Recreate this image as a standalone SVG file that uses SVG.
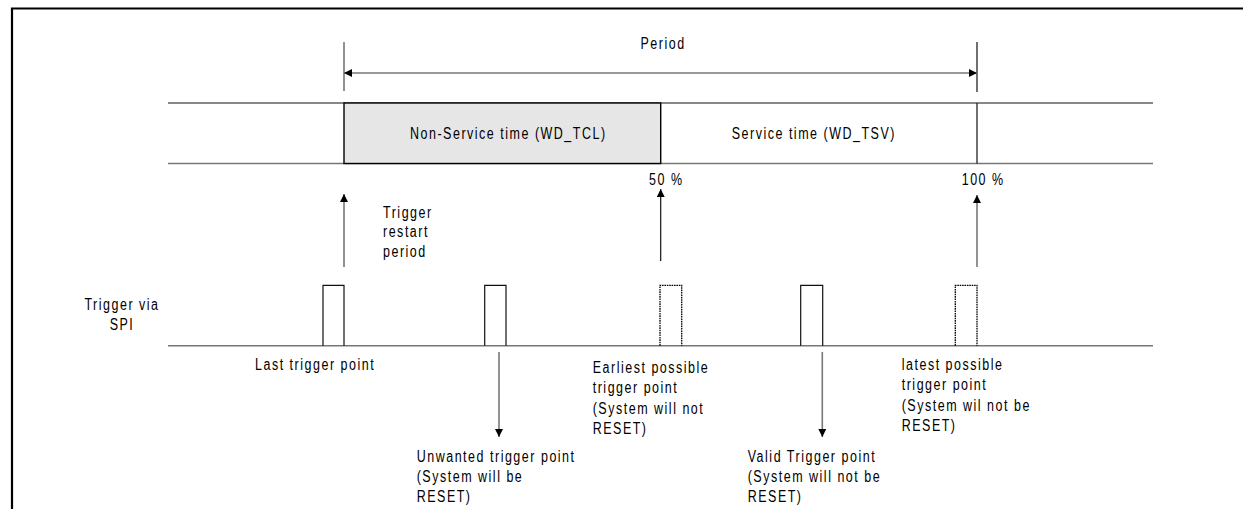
<svg xmlns="http://www.w3.org/2000/svg" width="1243" height="509" viewBox="0 0 1243 509">
<style>
  text { font-family: "Liberation Sans", Arial, sans-serif; font-size: 15.6px; fill: #000; letter-spacing: 1.9px; }
  .mid { text-anchor: middle; }
  .ln { stroke: #111; stroke-width: 1.2; fill: none; }
  .gl { stroke: #777; stroke-width: 1.6; fill: none; }
  .dot { stroke: #000; stroke-width: 1.3; fill: none; stroke-dasharray: 1.6 0.8; }
</style>
<defs>
  <marker id="ah" viewBox="0 0 10 10" refX="10" refY="5" markerWidth="8" markerHeight="8" markerUnits="userSpaceOnUse" orient="auto">
    <path d="M0,0 L10,5 L0,10 Z" fill="#000"/>
  </marker>
</defs>
<rect width="1243" height="509" fill="#fff"/>
<g id="frame">
  <path d="M12,509 V8.5 H1243" fill="none" stroke="#000" stroke-width="2.2"/>
</g>
<g id="period">
  <line class="gl" x1="344" y1="42" x2="344" y2="91"/>
  <line class="ln" x1="977" y1="42" x2="977" y2="92"/>
  <text class="mid" transform="translate(663,48.5) scale(0.8,1)">Period</text>
</g>
<g id="track">
  <line class="ln" x1="168" y1="103" x2="1153" y2="103"/>
  <line class="gl" x1="168" y1="163.5" x2="1153" y2="163.5"/>
  <line class="ln" x1="977" y1="103" x2="977" y2="163.5"/>
</g>
<g id="non-service">
  <rect x="344" y="103" width="316.7" height="60.5" fill="#e6e6e6" stroke="#000" stroke-width="1.4"/>
  <text transform="translate(410,139) scale(0.8,1)">Non-Service time (WD_TCL)</text>
</g>
<g id="service">
  <text transform="translate(731.7,139) scale(0.8,1)">Service time (WD_TSV)</text>
</g>
<g id="pct50"><text transform="translate(649,185) scale(0.8,1)">50 %</text></g>
<g id="pct100"><text transform="translate(961.7,185) scale(0.8,1)">100 %</text></g>
<g id="restart-label">
  <text transform="translate(383,217.5) scale(0.8,1)"><tspan x="0" y="0">Trigger</tspan><tspan x="0" y="20">restart</tspan><tspan x="0" y="40">period</tspan></text>
</g>
<g id="spi-label">
  <text class="mid" transform="translate(122,310) scale(0.8,1)"><tspan x="0" y="0">Trigger via</tspan><tspan x="0" y="20">SPI</tspan></text>
</g>
<g id="signal">
  <line class="gl" x1="168" y1="345.7" x2="1153" y2="345.7"/>
  <path class="ln" d="M323,345.7 V285.3 H344 V345.7"/>
  <path class="ln" d="M484.7,345.7 V285.3 H506 V345.7"/>
  <path class="dot" d="M660,345.7 V285.3 H681.7 V345.7"/>
  <path class="ln" d="M800.7,345.7 V285.3 H822.7 V345.7"/>
  <path class="dot" d="M955.3,345.7 V285.3 H977 V345.7"/>
</g>
<g id="last-trigger"><text transform="translate(255,370) scale(0.8,1)">Last trigger point</text></g>
<g id="unwanted">
  <text transform="translate(416.7,461.7) scale(0.8,1)"><tspan x="0" y="0">Unwanted trigger point</tspan><tspan x="0" y="20.3">(System will be</tspan><tspan x="0" y="40.6">RESET)</tspan></text>
</g>
<g id="earliest">
  <text transform="translate(592.7,373) scale(0.8,1)"><tspan x="0" y="0">Earliest possible</tspan><tspan x="0" y="20.3">trigger point</tspan><tspan x="0" y="40.6">(System will not</tspan><tspan x="0" y="60.9">RESET)</tspan></text>
</g>
<g id="valid">
  <text transform="translate(747.7,461.7) scale(0.8,1)"><tspan x="0" y="0">Valid Trigger point</tspan><tspan x="0" y="20.3">(System will not be</tspan><tspan x="0" y="40.6">RESET)</tspan></text>
</g>
<g id="latest">
  <text transform="translate(901.7,370) scale(0.8,1)"><tspan x="0" y="0">latest possible</tspan><tspan x="0" y="20.3">trigger point</tspan><tspan x="0" y="40.6">(System wil not be</tspan><tspan x="0" y="60.9">RESET)</tspan></text>
</g>
<g id="connectors">
  <line class="gl" x1="660" y1="73" x2="344" y2="73" marker-end="url(#ah)"/>
  <line class="gl" x1="660" y1="73" x2="977" y2="73" marker-end="url(#ah)"/>
  <line class="gl" x1="344" y1="267" x2="344" y2="194" marker-end="url(#ah)"/>
  <line class="ln" x1="660.7" y1="261" x2="660.7" y2="189" marker-end="url(#ah)"/>
  <line class="gl" x1="977" y1="267" x2="977" y2="195" marker-end="url(#ah)"/>
  <line class="gl" x1="499" y1="352" x2="499" y2="437" marker-end="url(#ah)"/>
  <line class="gl" x1="822.3" y1="352" x2="822.3" y2="437" marker-end="url(#ah)"/>
</g>
</svg>
